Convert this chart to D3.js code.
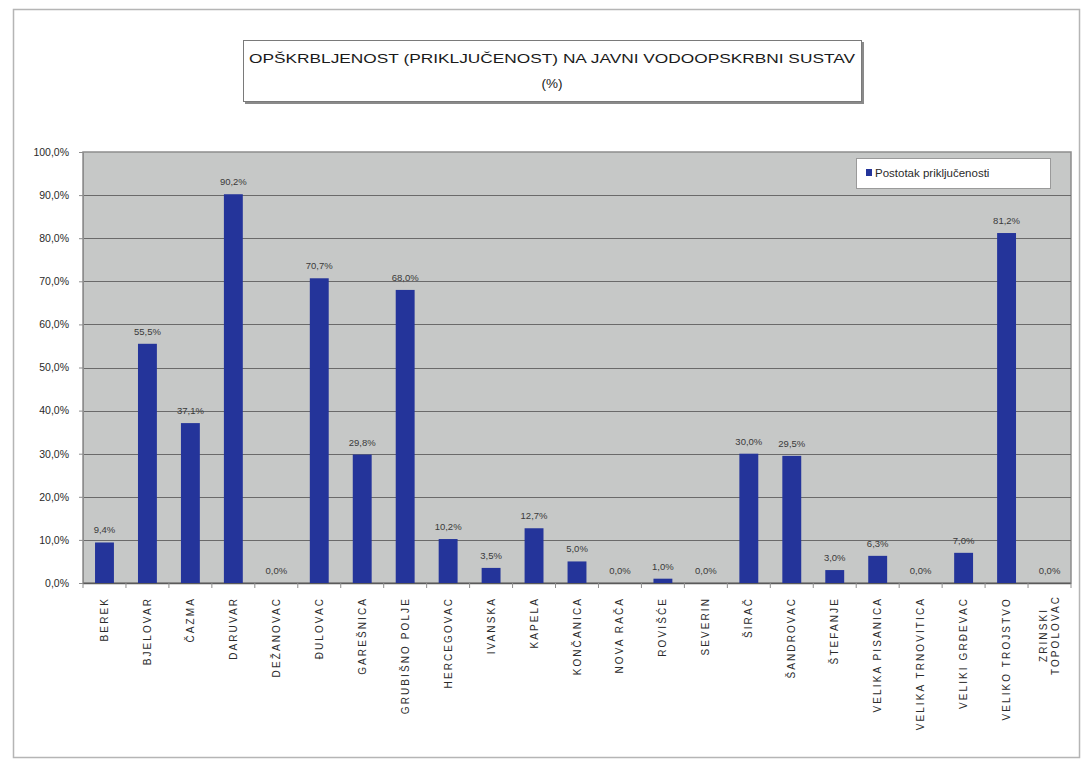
<!DOCTYPE html>
<html>
<head>
<meta charset="utf-8">
<script src="https://cdn.jsdelivr.net/npm/d3@7"></script>
<style>
  html, body { margin: 0; padding: 0; background: #fff; }
  svg { display: block; }
  text { font-family: "Liberation Sans Narrow", "Liberation Sans", Arial, sans-serif; }
</style>
</head>
<body>
<svg id="chart" width="1083" height="763"></svg>
<script>
// Municipalities / towns
const categories = [
  "BEREK", "BJELOVAR", "ČAZMA", "DARUVAR", "DEŽANOVAC", "ĐULOVAC", "GAREŠNICA",
  "GRUBIŠNO POLJE", "HERCEGOVAC", "IVANSKA", "KAPELA", "KONČANICA", "NOVA RAČA",
  "ROVIŠĆE", "SEVERIN", "ŠIRAČ", "ŠANDROVAC", "ŠTEFANJE", "VELIKA PISANICA",
  "VELIKA TRNOVITICA", "VELIKI GRĐEVAC", "VELIKO TROJSTVO", "ZRINSKI TOPOLOVAC"
];
// Share of households connected to the public water supply (%)
const values = [
  9.4, 55.5, 37.1, 90.2, 0.0, 70.7, 29.8,
  68.0, 10.2, 3.5, 12.7, 5.0, 0.0,
  1.0, 0.0, 30.0, 29.5, 3.0, 6.3,
  0.0, 7.0, 81.2, 0.0
];
const yTicks = [0, 10, 20, 30, 40, 50, 60, 70, 80, 90, 100];
const titleLines = ["OPŠKRBLJENOST (PRIKLJUČENOST) NA JAVNI VODOOPSKRBNI SUSTAV", "(%)"];
const seriesName = "Postotak priključenosti";

const svg = d3.select("#chart");
const plot = { left: 83, right: 1071, top: 152, bottom: 583 };

const fmt = v => d3.format(".1f")(v).replace(".", ",") + "%";

// outer chart frame
svg.append("rect")
  .attr("x", 13.5).attr("y", 9.5).attr("width", 1066).attr("height", 748)
  .attr("fill", "#fff").attr("stroke", "#b5b5b5").attr("stroke-width", 1.5);

// title box with a drop shadow
svg.append("rect")
  .attr("x", 245).attr("y", 42).attr("width", 619).attr("height", 62)
  .attr("fill", "#8a8a8a");
svg.append("rect")
  .attr("x", 243.5).attr("y", 40.5).attr("width", 618).attr("height", 61)
  .attr("fill", "#fff").attr("stroke", "#7a7a7a").attr("stroke-width", 1);
svg.append("text")
  .attr("x", 552).attr("y", 63).attr("text-anchor", "middle")
  .attr("font-size", 13.5).attr("fill", "#1a1a1a")
  .attr("textLength", 606).attr("lengthAdjust", "spacingAndGlyphs")
  .text(titleLines[0]);
svg.append("text")
  .attr("x", 552).attr("y", 88).attr("text-anchor", "middle")
  .attr("font-size", 13.5).attr("fill", "#1a1a1a")
  .text(titleLines[1]);

// scales
const x = d3.scaleBand().domain(categories).range([plot.left, plot.right]).paddingInner(0.56).paddingOuter(0.28);
const y = d3.scaleLinear().domain([0, 100]).range([plot.bottom, plot.top]);

// plot background
svg.append("rect")
  .attr("x", plot.left).attr("y", plot.top)
  .attr("width", plot.right - plot.left).attr("height", plot.bottom - plot.top)
  .attr("fill", "#c6c8c7").attr("stroke", "#8d8d8d").attr("stroke-width", 1.5);

// gridlines
svg.append("g")
  .selectAll("line").data(yTicks.filter(t => t > 0 && t < 100)).join("line")
  .attr("x1", plot.left).attr("x2", plot.right)
  .attr("y1", d => Math.round(y(d)) + 0.5).attr("y2", d => Math.round(y(d)) + 0.5)
  .attr("stroke", "#6a6a6a").attr("stroke-width", 1.2);

// y axis
const yAxis = svg.append("g")
  .attr("transform", `translate(${plot.left},0)`)
  .call(d3.axisLeft(y).tickValues(yTicks).tickFormat(fmt).tickSize(4).tickPadding(10));
yAxis.select(".domain").attr("stroke", "#8d8d8d");
yAxis.selectAll(".tick line").attr("stroke", "#8d8d8d");
yAxis.selectAll("text").attr("font-size", 10.5).attr("fill", "#2a2a2a")
  .attr("font-family", "'Liberation Sans Narrow', 'Liberation Sans', Arial, sans-serif");

// x axis baseline and category separators
const step = x.step();
svg.append("line")
  .attr("x1", plot.left).attr("x2", plot.right)
  .attr("y1", plot.bottom + 0.5).attr("y2", plot.bottom + 0.5)
  .attr("stroke", "#5a5a5a").attr("stroke-width", 1.5);
svg.append("g")
  .selectAll("line").data(d3.range(categories.length + 1)).join("line")
  .attr("x1", i => plot.left + i * step).attr("x2", i => plot.left + i * step)
  .attr("y1", plot.bottom).attr("y2", plot.bottom + 5)
  .attr("stroke", "#8d8d8d");

// bars
svg.append("g")
  .selectAll("rect").data(values).join("rect")
  .attr("x", (d, i) => x(categories[i]))
  .attr("y", d => y(d))
  .attr("width", x.bandwidth())
  .attr("height", d => plot.bottom - y(d))
  .attr("fill", "#24349a");

// value labels
svg.append("g")
  .selectAll("text").data(values).join("text")
  .attr("x", (d, i) => x(categories[i]) + x.bandwidth() / 2)
  .attr("y", d => y(d) - 9)
  .attr("text-anchor", "middle")
  .attr("font-size", 9.5).attr("fill", "#3a3a3a")
  .text(fmt);

// category labels, rotated, reading bottom to top
const labels = svg.append("g")
  .selectAll("g").data(categories).join("g")
  .attr("transform", d => `translate(${x(d) + x.bandwidth() / 2},${plot.bottom + 14}) rotate(-90)`);
labels.each(function (d) {
  const parts = d === "ZRINSKI TOPOLOVAC" ? ["ZRINSKI", "TOPOLOVAC"] : [d];
  const g = d3.select(this);
  parts.forEach((p, k) => {
    g.append("text")
      .attr("x", 0)
      .attr("y", (k - (parts.length - 1) / 2) * 12 + 3.5)
      .attr("text-anchor", parts.length > 1 ? "middle" : "end")
      .attr("dx", parts.length > 1 ? -38 : 0)
      .attr("font-size", 10).attr("fill", "#2a2a2a")
      .attr("letter-spacing", 2.1)
      .text(p);
  });
});

// legend
svg.append("rect")
  .attr("x", 856.5).attr("y", 158.5).attr("width", 194).attr("height", 30)
  .attr("fill", "#fff").attr("stroke", "#9a9a9a");
svg.append("rect")
  .attr("x", 866).attr("y", 169).attr("width", 6).attr("height", 7)
  .attr("fill", "#24349a");
svg.append("text")
  .attr("x", 875).attr("y", 177)
  .attr("font-size", 11.5).attr("fill", "#2a2a2a")
  .text(seriesName);
</script>
</body>
</html>
